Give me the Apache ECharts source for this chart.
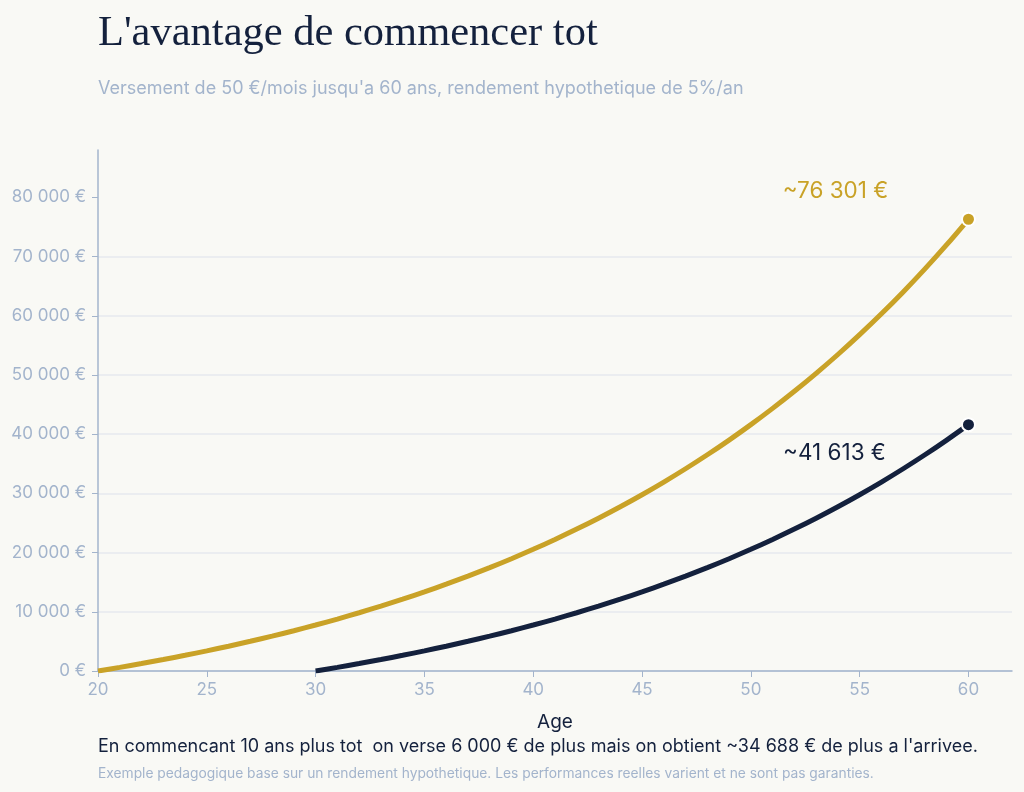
<!DOCTYPE html>
<html>
<head>
<meta charset="utf-8">
<script src="https://cdn.jsdelivr.net/npm/echarts@6/dist/echarts.min.js"></script>
<style>
  html, body { margin: 0; padding: 0; background: #f9f9f5; }
  #chart { width: 1024px; height: 792px; }
</style>
</head>
<body>
<div id="chart"></div>
<script>
// ages on the x axis
const ages = [20, 21, 22, 23, 24, 25, 26, 27, 28, 29, 30, 31, 32, 33, 34, 35, 36, 37, 38, 39, 40,
  41, 42, 43, 44, 45, 46, 47, 48, 49, 50, 51, 52, 53, 54, 55, 56, 57, 58, 59, 60];
// capital when starting at 20
const earlyValues = [0, 614, 1259, 1938, 2651, 3400, 4188, 5017, 5887, 6802, 7764, 8775, 9838,
  10956, 12130, 13365, 14663, 16027, 17461, 18968, 20552, 22218, 23968, 25809, 27743, 29776,
  31914, 34161, 36522, 39005, 41613, 44358, 47241, 50272, 53458, 56807, 60328, 64028, 67918,
  72007, 76301];
// capital when starting at 30
const lateStart = 30;
const lateValues = [0, 614, 1259, 1938, 2651, 3400, 4188, 5017, 5887, 6802, 7764, 8775, 9838,
  10956, 12130, 13365, 14663, 16027, 17461, 18968, 20552, 22218, 23968, 25809, 27743, 29776,
  31914, 34161, 36522, 39005, 41613];
const xTicks = [20, 25, 30, 35, 40, 45, 50, 55, 60];
const yTicks = [0, 10000, 20000, 30000, 40000, 50000, 60000, 70000, 80000];

const GOLD = "#c9a227";
const NAVY = "#14213d";
const MUTED = "#a3b4cc";

const fmtEuro = v => String(Math.round(v)).replace(/\B(?=(\d{3})+(?!\d))/g, " ") + " €";

const earlyData = ages.map((a, i) => [a, earlyValues[i]]);
const lateData = lateValues.map((v, i) => [lateStart + i, v]);
const earlyEnd = earlyData[earlyData.length - 1];
const lateEnd = lateData[lateData.length - 1];

let chartDom = document.getElementById("chart");
let myChart = echarts.init(chartDom);
let option;

option = {
  backgroundColor: "#f9f9f5",
  animation: false,
  textStyle: { fontFamily: "Inter" },
  title: [
    {
      text: "L'avantage de commencer tot",
      left: 98,
      top: 12,
      padding: 0,
      textStyle: { fontFamily: "Liberation Serif", fontSize: 42.5, fontWeight: "normal", color: NAVY }
    },
    {
      text: "Versement de 50 €/mois jusqu'a 60 ans, rendement hypothetique de 5%/an",
      left: 98,
      top: 80,
      padding: 0,
      textStyle: { fontFamily: "Inter", fontSize: 18, fontWeight: "normal", color: MUTED }
    },
    {
      text: "En commencant 10 ans plus tot  on verse 6 000 € de plus mais on obtient ~34 688 € de plus a l'arrivee.",
      left: 98,
      top: 738,
      padding: 0,
      textStyle: { fontFamily: "Inter", fontSize: 18, fontWeight: "normal", color: NAVY }
    },
    {
      text: "Exemple pedagogique base sur un rendement hypothetique. Les performances reelles varient et ne sont pas garanties.",
      left: 98,
      top: 767,
      padding: 0,
      textStyle: { fontFamily: "Inter", fontSize: 13.8, fontWeight: "normal", color: MUTED }
    }
  ],
  grid: {
    left: 98,
    right: 12,
    top: 150,
    bottom: 121
  },
  xAxis: {
    type: "value",
    min: 20,
    max: 62,
    interval: 5,
    name: "Age",
    nameLocation: "middle",
    nameGap: 42,
    nameTextStyle: { color: NAVY, fontSize: 19 },
    axisLine: { show: true, lineStyle: { color: MUTED, width: 1.5 } },
    axisTick: { show: true, length: 6, lineStyle: { color: MUTED }, customValues: xTicks },
    axisLabel: { color: MUTED, fontSize: 17, margin: 10, customValues: xTicks },
    splitLine: { show: false }
  },
  yAxis: {
    type: "value",
    min: 0,
    max: 88000,
    interval: 10000,
    axisLine: { show: true, lineStyle: { color: MUTED, width: 1.5 } },
    axisTick: { show: true, length: 6, lineStyle: { color: MUTED }, customValues: yTicks },
    axisLabel: { color: MUTED, fontSize: 17, margin: 12, formatter: fmtEuro, customValues: yTicks },
    splitLine: { show: true, showMaxLine: false, lineStyle: { color: "#e6e9ee", width: 1.5 } }
  },
  series: [
    {
      name: "Debut a 20 ans",
      type: "line",
      data: earlyData,
      smooth: 0.3,
      showSymbol: false,
      lineStyle: { color: GOLD, width: 5 },
      itemStyle: { color: GOLD },
      z: 3
    },
    {
      name: "Debut a 30 ans",
      type: "line",
      data: lateData,
      smooth: 0.3,
      showSymbol: false,
      lineStyle: { color: NAVY, width: 5 },
      itemStyle: { color: NAVY },
      z: 3
    },
    {
      type: "scatter",
      data: [earlyEnd],
      symbolSize: 13,
      itemStyle: { color: GOLD, borderColor: "#ffffff", borderWidth: 2, opacity: 1 },
      label: {
        show: true,
        position: "inside",
        offset: [-133, -28],
        formatter: p => "~" + fmtEuro(p.value[1]),
        color: GOLD,
        fontSize: 22.5
      },
      z: 5
    },
    {
      type: "scatter",
      data: [lateEnd],
      symbolSize: 13,
      itemStyle: { color: NAVY, borderColor: "#ffffff", borderWidth: 2, opacity: 1 },
      label: {
        show: true,
        position: "inside",
        offset: [-134, 29],
        formatter: p => "~" + fmtEuro(p.value[1]),
        color: NAVY,
        fontSize: 22.5
      },
      z: 5
    }
  ]
};

option && myChart.setOption(option);
</script>
</body>
</html>
